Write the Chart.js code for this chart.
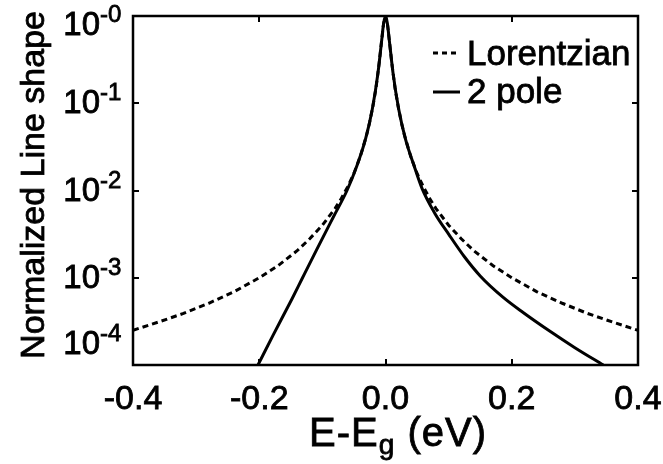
<!DOCTYPE html>
<html><head><meta charset="utf-8">
<script src="https://cdn.jsdelivr.net/npm/chart.js@4"></script>
<style>html,body{margin:0;padding:0;background:#fff}</style>
</head><body>
<canvas id="c" width="663" height="464"></canvas>
<script>
// ---- data ----
const lorentzX = [-0.4,-0.36,-0.32,-0.28,-0.24,-0.2,-0.17,-0.14,-0.12,-0.1,-0.08,-0.07,-0.06,-0.05,-0.04,-0.03,-0.025,-0.02,-0.015,-0.01,-0.006,-0.003,0,
                  0.003,0.006,0.01,0.015,0.02,0.025,0.03,0.04,0.05,0.06,0.07,0.08,0.1,0.12,0.14,0.17,0.2,0.24,0.28,0.32,0.36,0.4];
const lorentzY = [0.00025,0.00031,0.00039,0.00051,0.00069,0.00100,0.00138,0.00204,0.0028,0.0040,0.0062,0.0081,0.011,0.0157,0.0245,0.043,0.061,0.092,0.15,0.29,0.53,0.82,1,
                  0.82,0.53,0.29,0.15,0.092,0.061,0.043,0.0245,0.0157,0.011,0.0081,0.0062,0.0040,0.0028,0.00204,0.00138,0.00100,0.00069,0.00051,0.00039,0.00031,0.00025];
const poleX = [-0.202,-0.178,-0.148,-0.132,-0.109,-0.083,-0.061,-0.045,-0.032,-0.021,-0.012,-0.006,-0.003,0,
               0.003,0.006,0.012,0.021,0.032,0.045,0.058,0.078,0.1,0.125,0.15,0.186,0.218,0.26,0.3,0.345];
const poleY = [0.0001,0.00022,0.000575,0.00098,0.0021,0.0049,0.0100,0.0195,0.038,0.085,0.22,0.53,0.82,1,
               0.82,0.53,0.22,0.085,0.038,0.0195,0.0105,0.0055,0.00316,0.00174,0.00105,0.00060,0.00040,0.000245,0.000158,0.0001];
const xTicks = [-0.4,-0.2,0,0.2,0.4];
const xTickLabels = ['-0.4','-0.2','0.0','0.2','0.4'];
const yTicks = [1,0.1,0.01,0.001,0.0001];
const yTickExps = ['-0','-1','-2','-3','-4'];
const seriesNames = ['Lorentzian','2 pole'];
const xTitleParts = ['E-E','g',' (eV)'];
const yTitle = 'Normalized Line shape';

const FONT = "'Liberation Sans', Arial, Helvetica, sans-serif";
const toPts = (xs, ys) => xs.map((x, i) => ({x: x, y: ys[i]}));

function txt(ctx, s, x, y) {
  ctx.fillText(s, x, y);
  ctx.lineWidth = 0.8;
  ctx.strokeText(s, x, y);
}

const decor = {
  id: 'decor',
  afterDraw(chart) {
    const ctx = chart.ctx, a = chart.chartArea, xs = chart.scales.x, ys = chart.scales.y;
    ctx.save();
    ctx.strokeStyle = '#000'; ctx.fillStyle = '#000';
    ctx.setLineDash([]);
    ctx.lineWidth = 2.5;
    ctx.strokeRect(a.left, a.top, a.right - a.left, a.bottom - a.top);
    const tl = 6;
    ctx.lineWidth = 2;
    ctx.beginPath();
    xTicks.forEach(v => {
      const p = Math.round(xs.getPixelForValue(v));
      if (p <= a.left + 1 || p >= a.right - 1) return;
      ctx.moveTo(p, a.bottom); ctx.lineTo(p, a.bottom - tl);
      ctx.moveTo(p, a.top); ctx.lineTo(p, a.top + tl);
    });
    yTicks.forEach(v => {
      const p = Math.round(ys.getPixelForValue(v));
      if (p <= a.top + 1 || p >= a.bottom - 1) return;
      ctx.moveTo(a.left, p); ctx.lineTo(a.left + tl, p);
      ctx.moveTo(a.right, p); ctx.lineTo(a.right - tl, p);
    });
    ctx.stroke();

    // x tick labels
    ctx.font = '34px ' + FONT;
    ctx.textAlign = 'center'; ctx.textBaseline = 'alphabetic';
    xTicks.forEach((v, i) => {
      txt(ctx, xTickLabels[i], xs.getPixelForValue(v), 409);
    });
    // y tick labels with superscripts
    yTicks.forEach((v, i) => {
      const p = ys.getPixelForValue(v);
      const b = Math.min(Math.max(p + 10, a.top + 19), a.bottom - 11);
      ctx.font = '33px ' + FONT; ctx.textAlign = 'right';
      txt(ctx, '10', 100, b);
      ctx.font = '24px ' + FONT; ctx.textAlign = 'left';
      txt(ctx, yTickExps[i], 100, b - 13);
    });
    // x title
    const sp = 1;
    ctx.letterSpacing = sp + 'px';
    ctx.font = '40px ' + FONT;
    const w0 = ctx.measureText(xTitleParts[0]).width, w2 = ctx.measureText(xTitleParts[2]).width;
    ctx.font = '28px ' + FONT;
    const w1 = ctx.measureText(xTitleParts[1]).width;
    let x = 398 - (w0 + w1 + w2) / 2; const by = 446;
    ctx.textAlign = 'left';
    ctx.font = '40px ' + FONT; txt(ctx, xTitleParts[0], x, by); x += w0;
    ctx.font = '28px ' + FONT; txt(ctx, xTitleParts[1], x, by + 8); x += w1;
    ctx.font = '40px ' + FONT; txt(ctx, xTitleParts[2], x, by);
    ctx.letterSpacing = '0px';
    // y title
    ctx.save();
    ctx.translate(44, 185); ctx.rotate(-Math.PI / 2);
    ctx.font = '34px ' + FONT; ctx.textAlign = 'center'; ctx.textBaseline = 'alphabetic';
    txt(ctx, yTitle, 0, 0);
    ctx.restore();
    // legend
    ctx.lineWidth = 3;
    ctx.setLineDash([5, 4]);
    ctx.beginPath(); ctx.moveTo(433, 53); ctx.lineTo(460, 53); ctx.stroke();
    ctx.setLineDash([]);
    ctx.beginPath(); ctx.moveTo(433, 92); ctx.lineTo(460, 92); ctx.stroke();
    ctx.font = '35px ' + FONT; ctx.textAlign = 'left';
    txt(ctx, seriesNames[0], 467, 65);
    txt(ctx, seriesNames[1], 467, 103);
    ctx.restore();
  }
};

new Chart(document.getElementById('c'), {
  type: 'scatter',
  data: {
    datasets: [
      { label: seriesNames[0], data: toPts(lorentzX, lorentzY), showLine: true, borderColor: '#000',
        borderWidth: 3, borderDash: [6, 4], pointRadius: 0, tension: 0, fill: false },
      { label: seriesNames[1], data: toPts(poleX, poleY), showLine: true, borderColor: '#000',
        borderWidth: 3, pointRadius: 0, cubicInterpolationMode: 'monotone', fill: false }
    ]
  },
  options: {
    responsive: false, animation: false, devicePixelRatio: 1,
    layout: { padding: { left: 133, top: 16, right: 25, bottom: 99 } },
    plugins: { legend: { display: false }, tooltip: { enabled: false } },
    scales: {
      x: { type: 'linear', min: -0.4, max: 0.4, display: false },
      y: { type: 'logarithmic', min: 0.0001, max: 1, display: false }
    }
  },
  plugins: [decor]
});
</script>
</body></html>
